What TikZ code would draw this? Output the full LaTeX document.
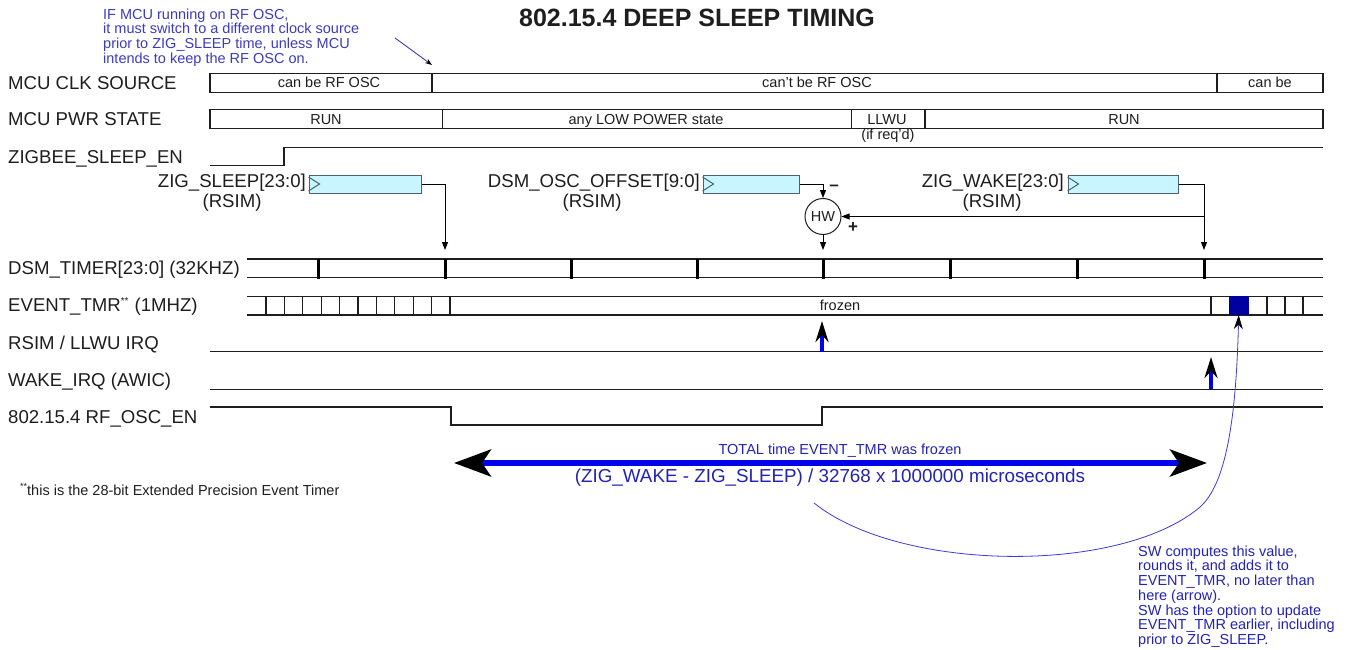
\documentclass[tikz,border=0pt]{standalone}
\usepackage{fontspec}
\setmainfont{Liberation Sans}
\usetikzlibrary{arrows.meta,calc}
\definecolor{annblue}{RGB}{60,60,190}
\definecolor{txtblue}{RGB}{35,35,180}
\definecolor{bigblue}{RGB}{0,0,235}
\definecolor{evblue}{RGB}{0,0,160}
\definecolor{regfill}{RGB}{200,245,255}
\definecolor{regedge}{RGB}{70,100,115}
\definecolor{curveblue}{RGB}{60,60,210}
\definecolor{ink}{RGB}{30,30,30}
\newcommand{\lblf}{\fontsize{18.6}{20}\selectfont}
\newcommand{\smf}{\fontsize{14.5}{14.7}\selectfont}
\begin{document}
\begin{tikzpicture}[x=1pt,y=-1pt,
 lbl/.style={anchor=base west,inner sep=0,font=\lblf,text=ink},
 rlbl/.style={inner sep=0,font=\lblf,text=ink},
 sm/.style={anchor=base,inner sep=0,font=\smf,text=ink},
 sig/.style={draw=ink,line width=1.4pt},
 tck/.style={draw=ink,line width=1.1pt},
 dtck/.style={draw=black,line width=3pt},
 reg/.style={draw=regedge,fill=regfill,line width=1pt,minimum height=18pt,inner sep=0},
 clk/.style={draw=regedge,line width=1pt},
 conn/.style={draw=black,line width=1pt,-{Triangle[length=8pt,width=6pt]}},
 irq/.style={draw=bigblue,line width=3.2pt,-{Stealth[length=21pt,width=13pt,color=black]}},
 big/.style={draw=bigblue,line width=5.5pt,{Stealth[length=37pt,width=27pt,inset=9pt,color=black]}-{Stealth[length=37pt,width=27pt,inset=9pt,color=black]}},
 note/.style={anchor=north west,inner sep=0,align=left,font=\smf,text=txtblue},
]
\fill[white] (0,0) rectangle (1352,650);
\useasboundingbox (0,0) rectangle (1352,650);

% title and annotation
\node[font=\bfseries\fontsize{25}{25}\selectfont,text=ink,inner sep=0,anchor=base] (title) at (697,27) {802.15.4 DEEP SLEEP TIMING};
\node[note,text=annblue] (ann) at (103,8.5) {IF MCU running on RF OSC,\\it must switch to a different clock source\\prior to ZIG\_SLEEP time, unless MCU\\intends to keep the RF OSC on.};
\coordinate (annS) at (395,38);
\coordinate (annE) at (432,65);
\draw[draw=annblue,line width=0.9pt,-{Stealth[length=7pt,width=5pt,color=black]}] (annS) -- (annE);

% row labels
\node[lbl] (lclk) at (8,89.6) {MCU CLK SOURCE};
\node[lbl] (lpwr) at (8,125.6) {MCU PWR STATE};
\node[lbl] (lzb) at (8,163.6) {ZIGBEE\_SLEEP\_EN};
\node[lbl] (ldsm) at (8,274.6) {DSM\_TIMER[23:0] (32KHZ)};
\node[lbl] (lev) at (8,311.6) {EVENT\_TMR\raisebox{7pt}{\fontsize{10}{10}\selectfont **}\hspace{6pt}(1MHZ)};
\node[lbl] (lrs) at (8,349.6) {RSIM / LLWU IRQ};
\node[lbl] (lwk) at (8,386.6) {WAKE\_IRQ (AWIC)};
\node[lbl] (lrf) at (8,423.6) {802.15.4 RF\_OSC\_EN};

% MCU CLK SOURCE
\draw[sig] (210,73.3) rectangle (1323,92.3);
\draw[sig] (432,73.3) -- (432,92.3) (1217,73.3) -- (1217,92.3);
\node[sm] (c1) at (329,87.7) {can be RF OSC};
\node[sm] (c2) at (817,87.7) {can't be RF OSC};
\node[sm] (c3) at (1270,87.7) {can be};

% MCU PWR STATE
\draw[sig] (210,109.5) rectangle (1323,128.3);
\draw[sig] (442.5,109.5) -- (442.5,128.3) (851.5,109.5) -- (851.5,128.3) (925,109.5) -- (925,128.3);
\node[sm] (p1) at (326,124.1) {RUN};
\node[sm] (p2) at (646,124.1) {any LOW POWER state};
\node[sm] (p3) at (887,124.1) {LLWU};
\node[sm] (p3b) at (888,140) {(if req'd)};
\node[sm] (p4) at (1124,124.1) {RUN};

% ZIGBEE_SLEEP_EN
\draw[sig] (210,165.5) -- (284,165.5) -- (284,147.5) -- (1323,147.5);

% registers
\node[rlbl,anchor=base east] (zsl) at (306,187.7) {ZIG\_SLEEP[23:0]};
\node[rlbl,anchor=base] (zsr) at (232,207.7) {(RSIM)};
\node[rlbl,anchor=base east] (dsl) at (700,187.7) {DSM\_OSC\_OFFSET[9:0]};
\node[rlbl,anchor=base] (dsr) at (592,207.7) {(RSIM)};
\node[rlbl,anchor=base east] (zwl) at (1064,187.7) {ZIG\_WAKE[23:0]};
\node[rlbl,anchor=base] (zwr) at (992,207.7) {(RSIM)};

\node[reg,minimum width=112pt] (zsbox) at (365,184) {};
\node[reg,minimum width=96pt] (dsbox) at (751,184) {};
\node[reg,minimum width=110pt] (zwbox) at (1123,184) {};
\foreach \b in {zsbox,dsbox,zwbox}
  \draw[clk] ($(\b.west)+(0,-7)$) -- ($(\b.west)+(11,0)$) -- ($(\b.west)+(0,7)$);

\node[draw=ink,line width=1pt,circle,minimum size=36pt,inner sep=0,font=\smf,text=ink] (hw) at (823,216.5) {HW};
\node[inner sep=0,font=\fontsize{17}{17}\selectfont\bfseries,text=ink] (minus) at (834,188) {\textendash};
\node[inner sep=0,font=\fontsize{17}{17}\selectfont\bfseries,text=ink] (plus) at (853,228) {+};

\coordinate (a1) at (445,250);
\coordinate (a5) at (823,250);
\coordinate (a8) at (1204,250);
\coordinate (br) at (1204,216.5);
\draw[conn] (zsbox.east) -| (a1);
\draw[conn] (dsbox.east) -| (hw.north);
\draw[conn] (hw.south) -- (a5);
\draw[conn] (zwbox.east) -| (a8);
\draw[conn] (br) -- (hw.east);

% DSM_TIMER
\draw[sig] (247,259) -- (1323,259) (247,277.5) -- (1323,277.5);
\foreach \x in {318,445,571,697,823,950,1077,1204}
  \draw[dtck] (\x,259) -- (\x,279);

% EVENT_TMR
\draw[sig] (247,296.5) -- (1323,296.5) (247,315) -- (1323,315);
\foreach \i in {0,...,10}
  \draw[tck] ({266+18.4*\i},296.5) -- ({266+18.4*\i},315);
\node[fill=evblue,minimum width=20pt,minimum height=18.5pt,inner sep=0] (evbox) at (1238.7,305.7) {};
\foreach \x in {1211,1267,1285,1303}
  \draw[tck] (\x,296.5) -- (\x,315);
\node[sm] (frz) at (840,310.2) {frozen};

% IRQ lines
\draw[sig] (210,351.5) -- (1323,351.5);
\draw[sig] (210,389.3) -- (1323,389.3);
\coordinate (ir1s) at (822,351.5);
\coordinate (ir1e) at (822,321);
\coordinate (ir2s) at (1211,389.3);
\coordinate (ir2e) at (1211,357);
\draw[irq] (ir1s) -- (ir1e);
\draw[irq] (ir2s) -- (ir2e);

% RF_OSC_EN
\draw[sig] (210,407) -- (451,407) -- (451,425) -- (822,425) -- (822,407) -- (1323,407);

% total frozen arrow
\coordinate (bigL) at (454,463);
\coordinate (bigR) at (1207,463);
\draw[big] (bigL) -- (bigR);
\node[font=\smf,text=txtblue,anchor=base,inner sep=0] (tot) at (840,454.2) {TOTAL time EVENT\_TMR was frozen};
\node[font=\fontsize{18.8}{19}\selectfont,text=txtblue,anchor=base,inner sep=0] (formula) at (830,482.7) {(ZIG\_WAKE - ZIG\_SLEEP) / 32768 x 1000000 microseconds};

% footnote
\node[anchor=base west,inner sep=0,font=\smf,text=ink] (fn) at (20,495) {\raisebox{6pt}{\fontsize{9}{9}\selectfont **}this is the 28-bit Extended Precision Event Timer};

% SW curve and note
\coordinate (curveS) at (814,503);
\draw[draw=curveblue,line width=0.8pt,-{Stealth[length=14pt,width=9pt,color=black]}] (curveS) .. controls (900,572) and (1120,575) .. (1200,507) .. controls (1226,484) and (1236,420) .. (evbox.south);
\node[note] (sw) at (1138,545.5) {SW computes this value,\\rounds it, and adds it to\\EVENT\_TMR, no later than\\here (arrow).\\SW has the option to update\\EVENT\_TMR earlier, including\\prior to ZIG\_SLEEP.};
\end{tikzpicture}
\end{document}
